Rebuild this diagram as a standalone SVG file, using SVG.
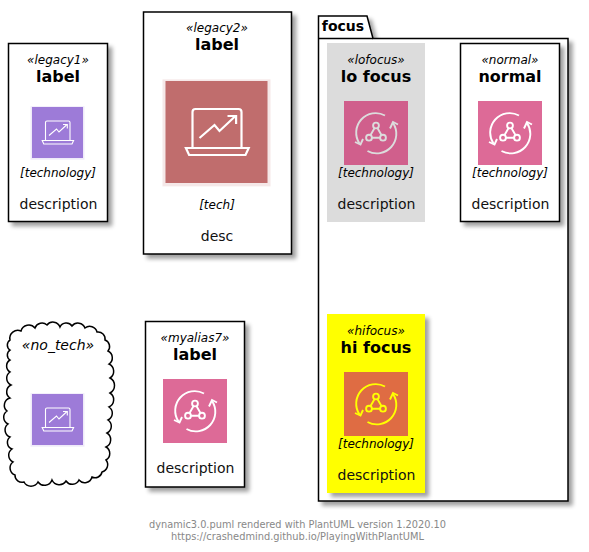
<svg xmlns="http://www.w3.org/2000/svg" width="589" height="552" viewBox="0 0 589 552">
<style>
text{font-family:"DejaVu Sans",sans-serif;text-anchor:middle;fill:#000}
.st{font-size:12px;font-style:italic}
.lb{font-size:16px;font-weight:bold}
.te{font-size:12px;font-style:italic}
.de{font-size:14px;fill:#111}
.box{fill:#fff;stroke:#000;stroke-width:1.5}
.sh{filter:url(#shadow)}
.ln{fill:none;stroke:currentColor;stroke-width:1.9}
.ft{font-size:10px;fill:#888}
</style>
<defs>
<filter id="shadow" x="-20%" y="-20%" width="140%" height="140%">
<feGaussianBlur in="SourceAlpha" stdDeviation="2"/>
<feOffset dx="4" dy="4"/>
<feComponentTransfer><feFuncA type="linear" slope="0.38"/></feComponentTransfer>
<feMerge><feMergeNode/><feMergeNode in="SourceGraphic"/></feMerge>
</filter>
<filter id="soft" x="-10%" y="-10%" width="120%" height="120%"><feGaussianBlur stdDeviation="0.5"/></filter>
<symbol id="rotate" viewBox="0 0 64 64">
<g class="ln">
<path d="M41 14.500A19.500 19.500 0 0 0 15.500 42.500"/>
<path d="M11 41L16.500 43.500L19 38"/>
<path d="M49 22A19.500 19.500 0 0 1 23.500 50"/>
<path d="M46 27.500L49 21L54 23.500"/>
<circle cx="32" cy="24.500" r="2.900"/><circle cx="25" cy="36.700" r="2.900"/><circle cx="39" cy="36.700" r="2.900"/>
<path d="M30.600 27L26.400 34.200M33.400 27L37.600 34.200M27.900 36.700H36.100"/>
</g>
</symbol>
<symbol id="laptop" viewBox="-2 -2 55 55">
<rect x="-1.500" y="-.800" width="54" height="53.500" fill="currentColor" fill-opacity=".16"/>
<rect width="51" height="51" fill="currentColor"/>
<g fill="none" stroke="#fff" stroke-width="1.100">
<path d="M13.500 33V15.500a1.500 1.500 0 0 1 1.500-1.500H36.500a1.500 1.500 0 0 1 1.500 1.500V33"/>
<path d="M10.200 33.500H41.600L40 37H11.800Z"/>
<path d="M17 28.500L24.500 22L27 25L35 17.500"/>
<path d="M31 17.500H35.300V21.500"/>
</g>
</symbol>
</defs>

<g id="connectors"></g>

<g id="legacy1">
<rect class="box sh" x="8.500" y="43.500" width="99" height="178"/>
<use href="#laptop" x="30" y="105" width="55" height="55" color="#9d7bd8"/>
<text class="st" x="58" y="64">«legacy1»</text>
<text class="lb" x="58" y="82">label</text>
<text class="te" x="58" y="177">[technology]</text>
<text class="de" x="58.500" y="209">description</text>
</g>

<g id="legacy2">
<rect class="box sh" x="143.500" y="12" width="148" height="242"/>
<use href="#laptop" x="161.500" y="77" width="110" height="110" color="#c06d6d" filter="url(#soft)"/>
<text class="st" x="217" y="32">«legacy2»</text>
<text class="lb" x="217" y="50">label</text>
<text class="te" x="217" y="209">[tech]</text>
<text class="de" x="217" y="241">desc</text>
</g>

<g id="no_tech">
<path fill="#fff" stroke="#000" stroke-width="1.500" d="M10 340A8 8 0 0 1 21 331A8 8 0 0 1 35 328A7.500 7.500 0 0 1 47 325A7.500 7.500 0 0 1 60 327A7 7 0 0 1 72 326A7.500 7.500 0 0 1 85 328A7.500 7.500 0 0 1 97 332A7 7 0 0 1 105 340A7 7 0 0 1 108 351A7.500 7.500 0 0 1 109 364A8 8 0 0 1 110 378A8.500 8.500 0 0 1 110 393A8 8 0 0 1 109 407A7.500 7.500 0 0 1 108 420A7.500 7.500 0 0 1 107 433A8 8 0 0 1 106 447A7.500 7.500 0 0 1 106 460A7.500 7.500 0 0 1 102 472A7 7 0 0 1 92 477A7.500 7.500 0 0 1 79 480A7.500 7.500 0 0 1 66 481A8 8 0 0 1 52 480A8 8 0 0 1 38 482A8 8 0 0 1 24 482A7 7 0 0 1 15 475A7.500 7.500 0 0 1 13 462A7.500 7.500 0 0 1 12 449A7 7 0 0 1 10 437A7.500 7.500 0 0 1 8 424A7.500 7.500 0 0 1 7 411A7.500 7.500 0 0 1 10 398A7.500 7.500 0 0 1 11 385A7.500 7.500 0 0 1 10 372A7 7 0 0 1 10 360A6 6 0 0 1 10 350A6 6 0 0 1 10 340Z"/>
<use href="#laptop" x="30" y="392" width="55" height="55" color="#9d7bd8"/>
<text class="te" x="58" y="350" style="font-size:14px">«no_tech»</text>
</g>

<g id="myalias7">
<rect class="box sh" x="145.500" y="321.500" width="99" height="165.500"/>
<rect x="163" y="379" width="64" height="64" fill="#dd6a97"/>
<use href="#rotate" x="163" y="379" width="64" height="64" color="#fff"/>
<text class="st" x="195" y="342">«myalias7»</text>
<text class="lb" x="195" y="360">label</text>
<text class="de" x="195.500" y="473">description</text>
</g>

<g id="focus">
<path class="sh" fill="#fff" stroke="#000" stroke-width="1.500" d="M318.500 38.500V16H367L373 38.500H568V501H318.500Z"/>
<path d="M318.500 38.500H373" fill="none" stroke="#000" stroke-width="1.500"/>
<text x="343" y="31" style="font-size:14px;font-weight:bold">focus</text>
</g>

<g id="lofocus">
<rect x="327" y="43" width="98" height="179" fill="#dcdcdc"/>
<rect x="344" y="101" width="64" height="64" fill="#d05f8c"/>
<use href="#rotate" x="344" y="101" width="64" height="64" color="#dcdcdc"/>
<text class="st" x="376" y="64">«lofocus»</text>
<text class="lb" x="376" y="82">lo focus</text>
<text class="te" x="376" y="177">[technology]</text>
<text class="de" x="376.500" y="209">description</text>
</g>

<g id="normal">
<rect class="box sh" x="460.500" y="43.500" width="99" height="178"/>
<rect x="478" y="101" width="64" height="64" fill="#dd6a97"/>
<use href="#rotate" x="478" y="101" width="64" height="64" color="#fff"/>
<text class="st" x="510" y="64">«normal»</text>
<text class="lb" x="510" y="82">normal</text>
<text class="te" x="510" y="177">[technology]</text>
<text class="de" x="510.500" y="209">description</text>
</g>

<g id="hifocus">
<rect class="sh" x="327" y="314" width="98" height="179" fill="#ff0"/>
<rect x="344" y="372" width="64" height="64" fill="#df6c43"/>
<use href="#rotate" x="344" y="372" width="64" height="64" color="#ff0"/>
<text class="st" x="376" y="335">«hifocus»</text>
<text class="lb" x="376" y="353">hi focus</text>
<text class="te" x="376" y="448">[technology]</text>
<text class="de" x="376.500" y="480">description</text>
</g>

<g id="footer">
<text class="ft" x="297.500" y="528" textLength="297" lengthAdjust="spacingAndGlyphs">dynamic3.0.puml rendered with PlantUML version 1.2020.10</text>
<text class="ft" x="297.500" y="540" textLength="253" lengthAdjust="spacingAndGlyphs">https://crashedmind.github.io/PlayingWithPlantUML</text>
</g>
</svg>
